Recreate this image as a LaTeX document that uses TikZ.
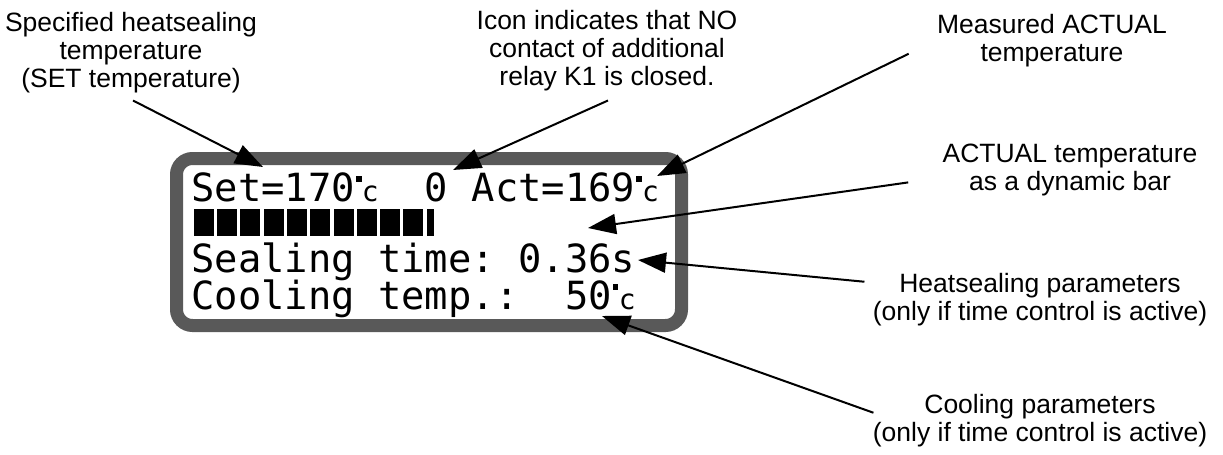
\documentclass[tikz,border=0pt]{standalone}
\usepackage{fontspec}
\setmainfont{Liberation Sans}
\newfontfamily\lcdfont{DejaVu Sans Mono}
\usepackage{tikz}
\usetikzlibrary{calc,arrows.meta}

\newcommand{\degc}{\makebox[0.602em][l]{\kern0.03em\rule[0.5em]{0.14em}{0.14em}\kern0.01em\scalebox{0.72}{c}}}

\begin{document}
\begin{tikzpicture}[x=0.5pt,y=-0.5pt,
    note/.style={align=center,inner sep=0pt,anchor=north,font=\fontsize{13.25}{14}\selectfont},
    lcd/.style={inner sep=0pt,anchor=base west,font=\lcdfont\fontsize{19.4}{18}\selectfont\frenchspacing},
    pointer/.style={line width=1pt,-{Triangle[length=14pt,width=10pt]}}]
              \useasboundingbox(0,0)rectangle(1223,455);
              % display
              \draw[line width=6.5pt,draw=black!65,fill=white,rounded corners=8pt](176.5,158.5)rectangle(681.5,325.5);
              \node[lcd](set)at(191,201){Set=170\degc\ \ 0\ Act=169\degc};
              \foreach \i in {0,...,9}
                \fill(193.7+23.3*\i,209)rectangle++(20,27);
              \fill(426.7,209)rectangle++(7,27);
              \node[lcd](seal)at(191,272){Sealing time:\ 0.36s};
              \node[lcd](cool)at(191,309){Cooling temp.:\ \ 50\degc};
              % notes
              \node[note](setnote)at(131,12){Specified heatsealing\\temperature\\(SET temperature)};
              \node[note](iconnote)at(607,10){Icon indicates that NO\\contact of additional\\relay K1 is closed.};
              \node[note](actnote)at(1052,14){Measured ACTUAL\\temperature};
              \node[note](barnote)at(1070,144){ACTUAL temperature\\as a dynamic bar};
              \node[note](sealnote)at(1040,273){Heatsealing parameters\\(only if time control is active)};
              \node[note](coolnote)at(1040,394){Cooling parameters\\(only if time control is active)};
              % arrow tips
              \coordinate(settip)at(263,167);
              \coordinate(icontip)at(453,170);
              \coordinate(acttip)at(657,176);
              \coordinate(bartip)at(588,228);
              \coordinate(sealtip)at(638,260);
              \coordinate(cooltip)at(602,316);
              \draw[pointer](setnote.south)++(2,7)--(settip);
              \draw[pointer](iconnote.south)++(1,9)--(icontip);
              \draw[pointer](actnote.west)++(-28,13)--(acttip);
              \draw[pointer](barnote.west)++(-34,12)--(bartip);
              \draw[pointer](sealnote.west)++(-8,-18)--(sealtip);
              \draw[pointer](coolnote.west)++(1,-8)--(cooltip);
            \end{tikzpicture}
\end{document}
